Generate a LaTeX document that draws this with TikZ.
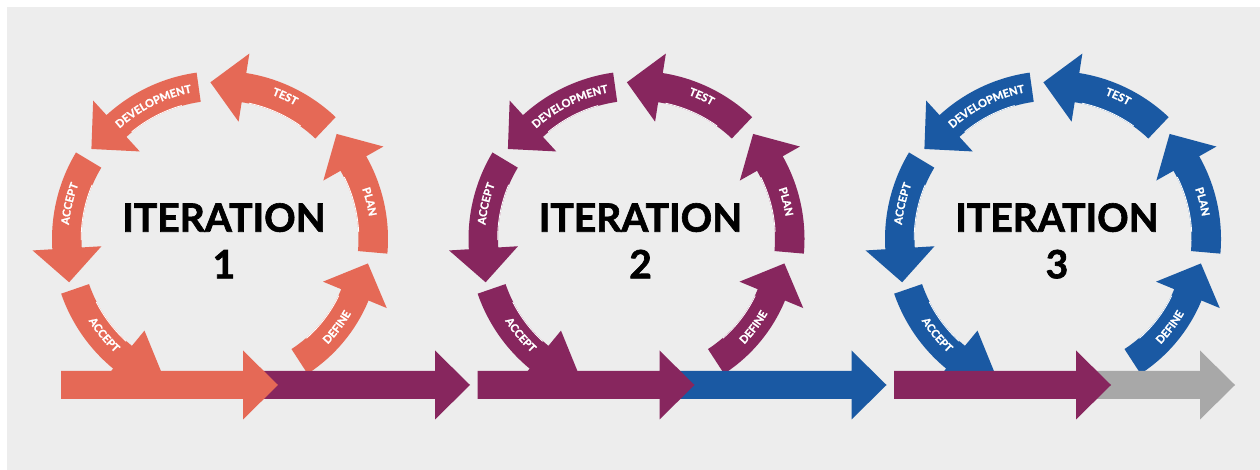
\documentclass[tikz,border=0pt]{standalone}
\usepackage{fontspec}
\setmainfont{Lato}
\usetikzlibrary{calc,decorations.text}
\definecolor{itorange}{RGB}{229,105,86}
\definecolor{itpurple}{RGB}{135,38,94}
\definecolor{itblue}{RGB}{26,89,163}
\definecolor{itgray}{RGB}{168,168,168}
\definecolor{itback}{RGB}{237,237,237}
\font\lblheavy="Lato/B:embolden=1.2" at 11pt
\font\iterheavy="Lato/B:embolden=1.6" at 39pt
\newcommand{\lblfont}{\lblheavy\color{white}}
\newcommand{\iterfont}{\iterheavy}

% curved arrow: colour, tail angle, head angle, mid radius, head length
\newcommand{\ringarrow}[5]{%
  \fill[fill=#1] ({#2}:{#4+14.75}) arc[start angle={#2}, end angle={#3}, radius={#4+14.75}]
    -- ({#3}:{#4+34.5}) -- ($({#3}:{#4})+({#3+90}:{#5})$) -- ({#3}:{#4-34.5})
    -- ({#3}:{#4-14.75}) arc[start angle={#3}, end angle={#2}, radius={#4-14.75}] -- cycle;
  \draw[white, line width=0.8] ({#2+8}:{#4-14.4}) arc[start angle={#2+8}, end angle={#3-3}, radius={#4-14.4}];
}
% label on the ring: angle, radius, side (1 out, -1 in), text
\newcommand{\ringlabel}[4]{%
  \path[decorate, decoration={text along path, text align=center,
      text/.expanded={|\noexpand\lblfont|#4}}]
    ({#1+#3*40}:{#2-#3*3.8}) arc[start angle={#1+#3*40}, end angle={#1-#3*40}, radius={#2-#3*3.8}];
}
% straight arrow: colour, start x, head x, centre y
\newcommand{\flatarrow}[4]{%
  \fill[fill=#1] (#2,#4-14) -- (#3,#4-14) -- (#3,#4-34.5) -- (#3+35,#4)
    -- (#3,#4+34.5) -- (#3,#4+14) -- (#2,#4+14) -- cycle;
}

\begin{document}
\begin{tikzpicture}[x=1pt, y=1pt]
  \fill[white] (0,0) rectangle (1260,470);
  \fill[itback] (7,0) rectangle (1260,463);
  \foreach \k/\col/\maincol/\nextcol/\nextbase in {0/itorange/itorange/itpurple/215, 1/itpurple/itpurple/itblue/215, 2/itblue/itpurple/itgray/147} {
    \begin{scope}[shift={(220+416.5*\k,231)}]
      % the six steps round the cycle
      \foreach \ta/\ha/\r/\hl/\la/\lr/\s/\txt in {
          -57/-22.5/146/34/-37/147/-1/DEFINE,
          -5/29.5/153.25/34/14/154.5/1/PLAN,
          46.5/81/153.25/34/65.4/157/1/TEST,
          98/132.5/153.25/34/116.6/153/1/DEVELOPMENT,
          149/183.5/153.25/34/166.8/155.5/1/ACCEPT,
          199/230.5/153.25/64/219.6/151/-1/ACCEPT} {
        \ringarrow{\col}{\ta}{\ha}{\r}{\hl}
        \ringlabel{\la}{\lr}{\s}{\txt}
      }
      \pgfmathtruncatemacro{\num}{\k+1}
      \node[font=\iterfont, anchor=base, inner sep=0pt] (iter\k) at (4,7.3) {ITERATION};
      \node[font=\iterfont, anchor=base, inner sep=0pt] (num\k) at (4,-39.3) {\num};
      % timeline
      \flatarrow{\nextcol}{43}{\nextbase}{-146}
      \flatarrow{\maincol}{-159}{23}{-146}
    \end{scope}
  }
\end{tikzpicture}
\end{document}
